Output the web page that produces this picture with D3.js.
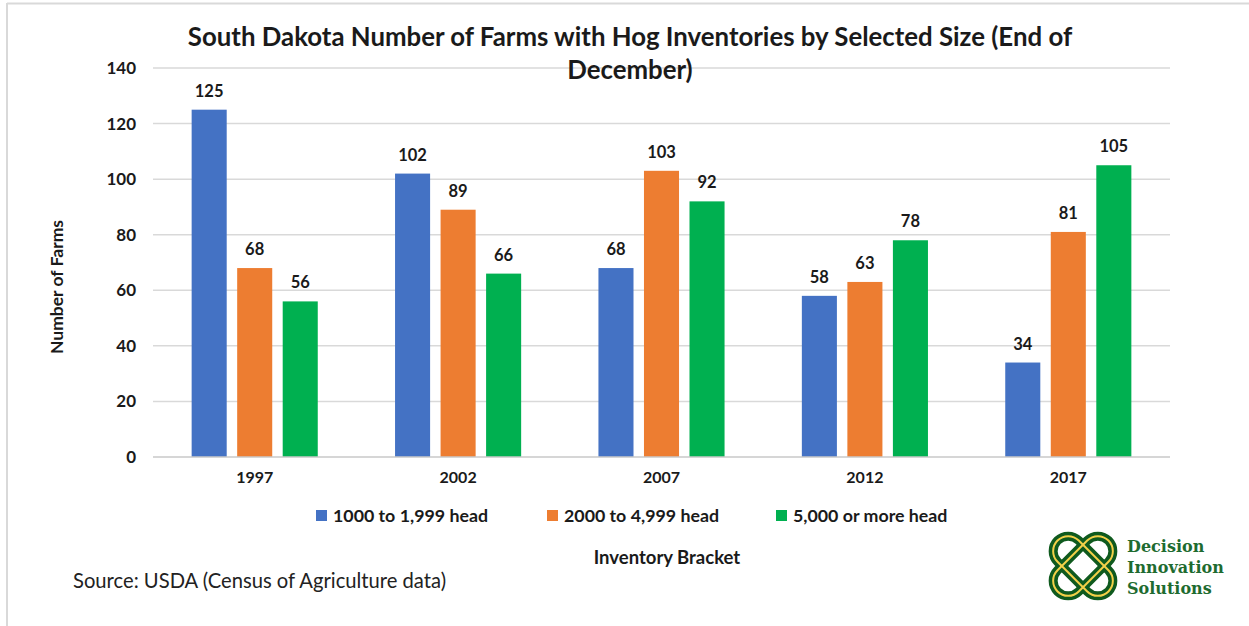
<!DOCTYPE html>
<html>
<head>
<meta charset="utf-8">
<script src="https://cdn.jsdelivr.net/npm/d3@7"></script>
<style>
  html, body { margin: 0; padding: 0; background: #fff; }
  svg { display: block; }
  text { font-family: Lato, "Open Sans", sans-serif; fill: #1a1a1a; }
</style>
</head>
<body>
<svg id="chart" width="1249" height="626"></svg>
<script>
// Census years and size brackets
const years = ["1997", "2002", "2007", "2012", "2017"];
const brackets = ["1000 to 1,999 head", "2000 to 4,999 head", "5,000 or more head"];
// Number of farms per bracket, one value per year
const small = [125, 102, 68, 58, 34];
const medium = [68, 89, 103, 63, 81];
const large = [56, 66, 92, 78, 105];
const yTicks = [0, 20, 40, 60, 80, 100, 120, 140];
const colors = ["#4472C4", "#ED7D31", "#00B050"];

const series = [small, medium, large];
const rows = years.map((yr, i) => ({ year: yr, values: series.map(s => s[i]) }));

const svg = d3.select("#chart");

// Frame
svg.append("line").attr("x1", 7).attr("x2", 1249).attr("y1", 3.5).attr("y2", 3.5)
  .attr("stroke", "#d9d9d9").attr("stroke-width", 2);
svg.append("line").attr("x1", 7).attr("x2", 7).attr("y1", 3).attr("y2", 626)
  .attr("stroke", "#d9d9d9").attr("stroke-width", 2);

const plot = { left: 153, right: 1170, top: 68, bottom: 457 };

const x0 = d3.scaleBand().domain(years).range([plot.left, plot.right])
  .paddingInner(0.38).paddingOuter(0.19);
const x1 = d3.scaleBand().domain(d3.range(3)).range([0, x0.bandwidth()])
  .paddingInner(0.23).paddingOuter(0);
const y = d3.scaleLinear().domain([0, 140]).range([plot.bottom, plot.top]);

// Gridlines
svg.append("g").selectAll("line").data(yTicks.filter(t => t > 0)).join("line")
  .attr("x1", plot.left).attr("x2", plot.right)
  .attr("y1", d => y(d)).attr("y2", d => y(d))
  .attr("stroke", "#d9d9d9").attr("stroke-width", 1.5);

// Y axis tick labels
const yAxis = svg.append("g").attr("transform", `translate(${plot.left - 17},0)`)
  .call(d3.axisLeft(y).tickValues(yTicks).tickSize(0).tickPadding(0));
yAxis.select(".domain").remove();
yAxis.selectAll("text").attr("font-weight", 700)
  .style("font-size", "17px").style("font-family", "Lato, sans-serif").style("fill", "#1a1a1a");

// Bars
const groups = svg.append("g").selectAll("g").data(rows).join("g")
  .attr("transform", d => `translate(${x0(d.year)},0)`);
groups.selectAll("rect").data(d => d.values).join("rect")
  .attr("x", (d, i) => x1(i)).attr("width", x1.bandwidth())
  .attr("y", d => y(d)).attr("height", d => y(0) - y(d))
  .attr("fill", (d, i) => colors[i]);
groups.selectAll("text").data(d => d.values).join("text")
  .attr("x", (d, i) => x1(i) + x1.bandwidth() / 2)
  .attr("y", d => y(d) - 13)
  .attr("text-anchor", "middle").attr("font-size", 16.5).attr("font-weight", 700)
  .text(d => d);

// Baseline
svg.append("line").attr("x1", plot.left).attr("x2", plot.right)
  .attr("y1", y(0)).attr("y2", y(0)).attr("stroke", "#c8c8c8").attr("stroke-width", 1.5);

// X axis labels
const xAxis = svg.append("g").attr("transform", `translate(0,${plot.bottom + 15})`)
  .call(d3.axisBottom(x0).tickSize(0).tickPadding(0));
xAxis.select(".domain").remove();
xAxis.selectAll("text").attr("font-weight", 700)
  .style("font-size", "16px").style("font-family", "Lato, sans-serif").style("fill", "#1a1a1a");

// Title
svg.append("text").attr("x", 630).attr("y", 46).attr("text-anchor", "middle")
  .attr("font-size", 25.8).attr("font-weight", 700)
  .text("South Dakota Number of Farms with Hog Inventories by Selected Size (End of");
svg.append("text").attr("x", 630).attr("y", 79).attr("text-anchor", "middle")
  .attr("font-size", 25.8).attr("font-weight", 700).text("December)");

// Axis titles
svg.append("text").attr("transform", "translate(63,287) rotate(-90)")
  .attr("text-anchor", "middle").attr("font-size", 17.5).attr("font-weight", 700)
  .text("Number of Farms");
svg.append("text").attr("x", 667).attr("y", 564).attr("text-anchor", "middle")
  .attr("font-size", 18.5).attr("font-weight", 700).text("Inventory Bracket");

// Legend
const legendX = [316, 547, 776];
const legend = svg.append("g").selectAll("g").data(brackets).join("g")
  .attr("transform", (d, i) => `translate(${legendX[i]},510)`);
legend.append("rect").attr("width", 11).attr("height", 11).attr("fill", (d, i) => colors[i]);
legend.append("text").attr("x", 17).attr("y", 12).attr("font-size", 17.8).attr("font-weight", 700)
  .text(d => d);

// Source note
svg.append("text").attr("x", 73).attr("y", 588).attr("font-size", 20.2)
  .style("fill", "#222").text("Source: USDA (Census of Agriculture data)");

// Logo: interlaced knot mark with wordmark
const logo = svg.append("g").attr("transform", "translate(1083,566)");
const loops = [45, -45];
loops.forEach(a => {
  logo.append("rect").attr("x", -36).attr("y", -15).attr("width", 72).attr("height", 30)
    .attr("rx", 15).attr("fill", "none").attr("stroke", "#0f5a1e").attr("stroke-width", 9)
    .attr("transform", `rotate(${a})`);
});
loops.forEach(a => {
  logo.append("rect").attr("x", -36).attr("y", -15).attr("width", 72).attr("height", 30)
    .attr("rx", 15).attr("fill", "none").attr("stroke", "#f2d048").attr("stroke-width", 2)
    .attr("transform", `rotate(${a})`);
});
const word = ["Decision", "Innovation", "Solutions"];
svg.append("g").selectAll("text").data(word).join("text")
  .attr("x", 1127).attr("y", (d, i) => 552 + i * 21)
  .style("font-family", "'DejaVu Serif', 'Liberation Serif', serif")
  .style("font-size", "16px").attr("font-weight", 700).style("fill", "#1e6b30")
  .text(d => d);
</script>
</body>
</html>
